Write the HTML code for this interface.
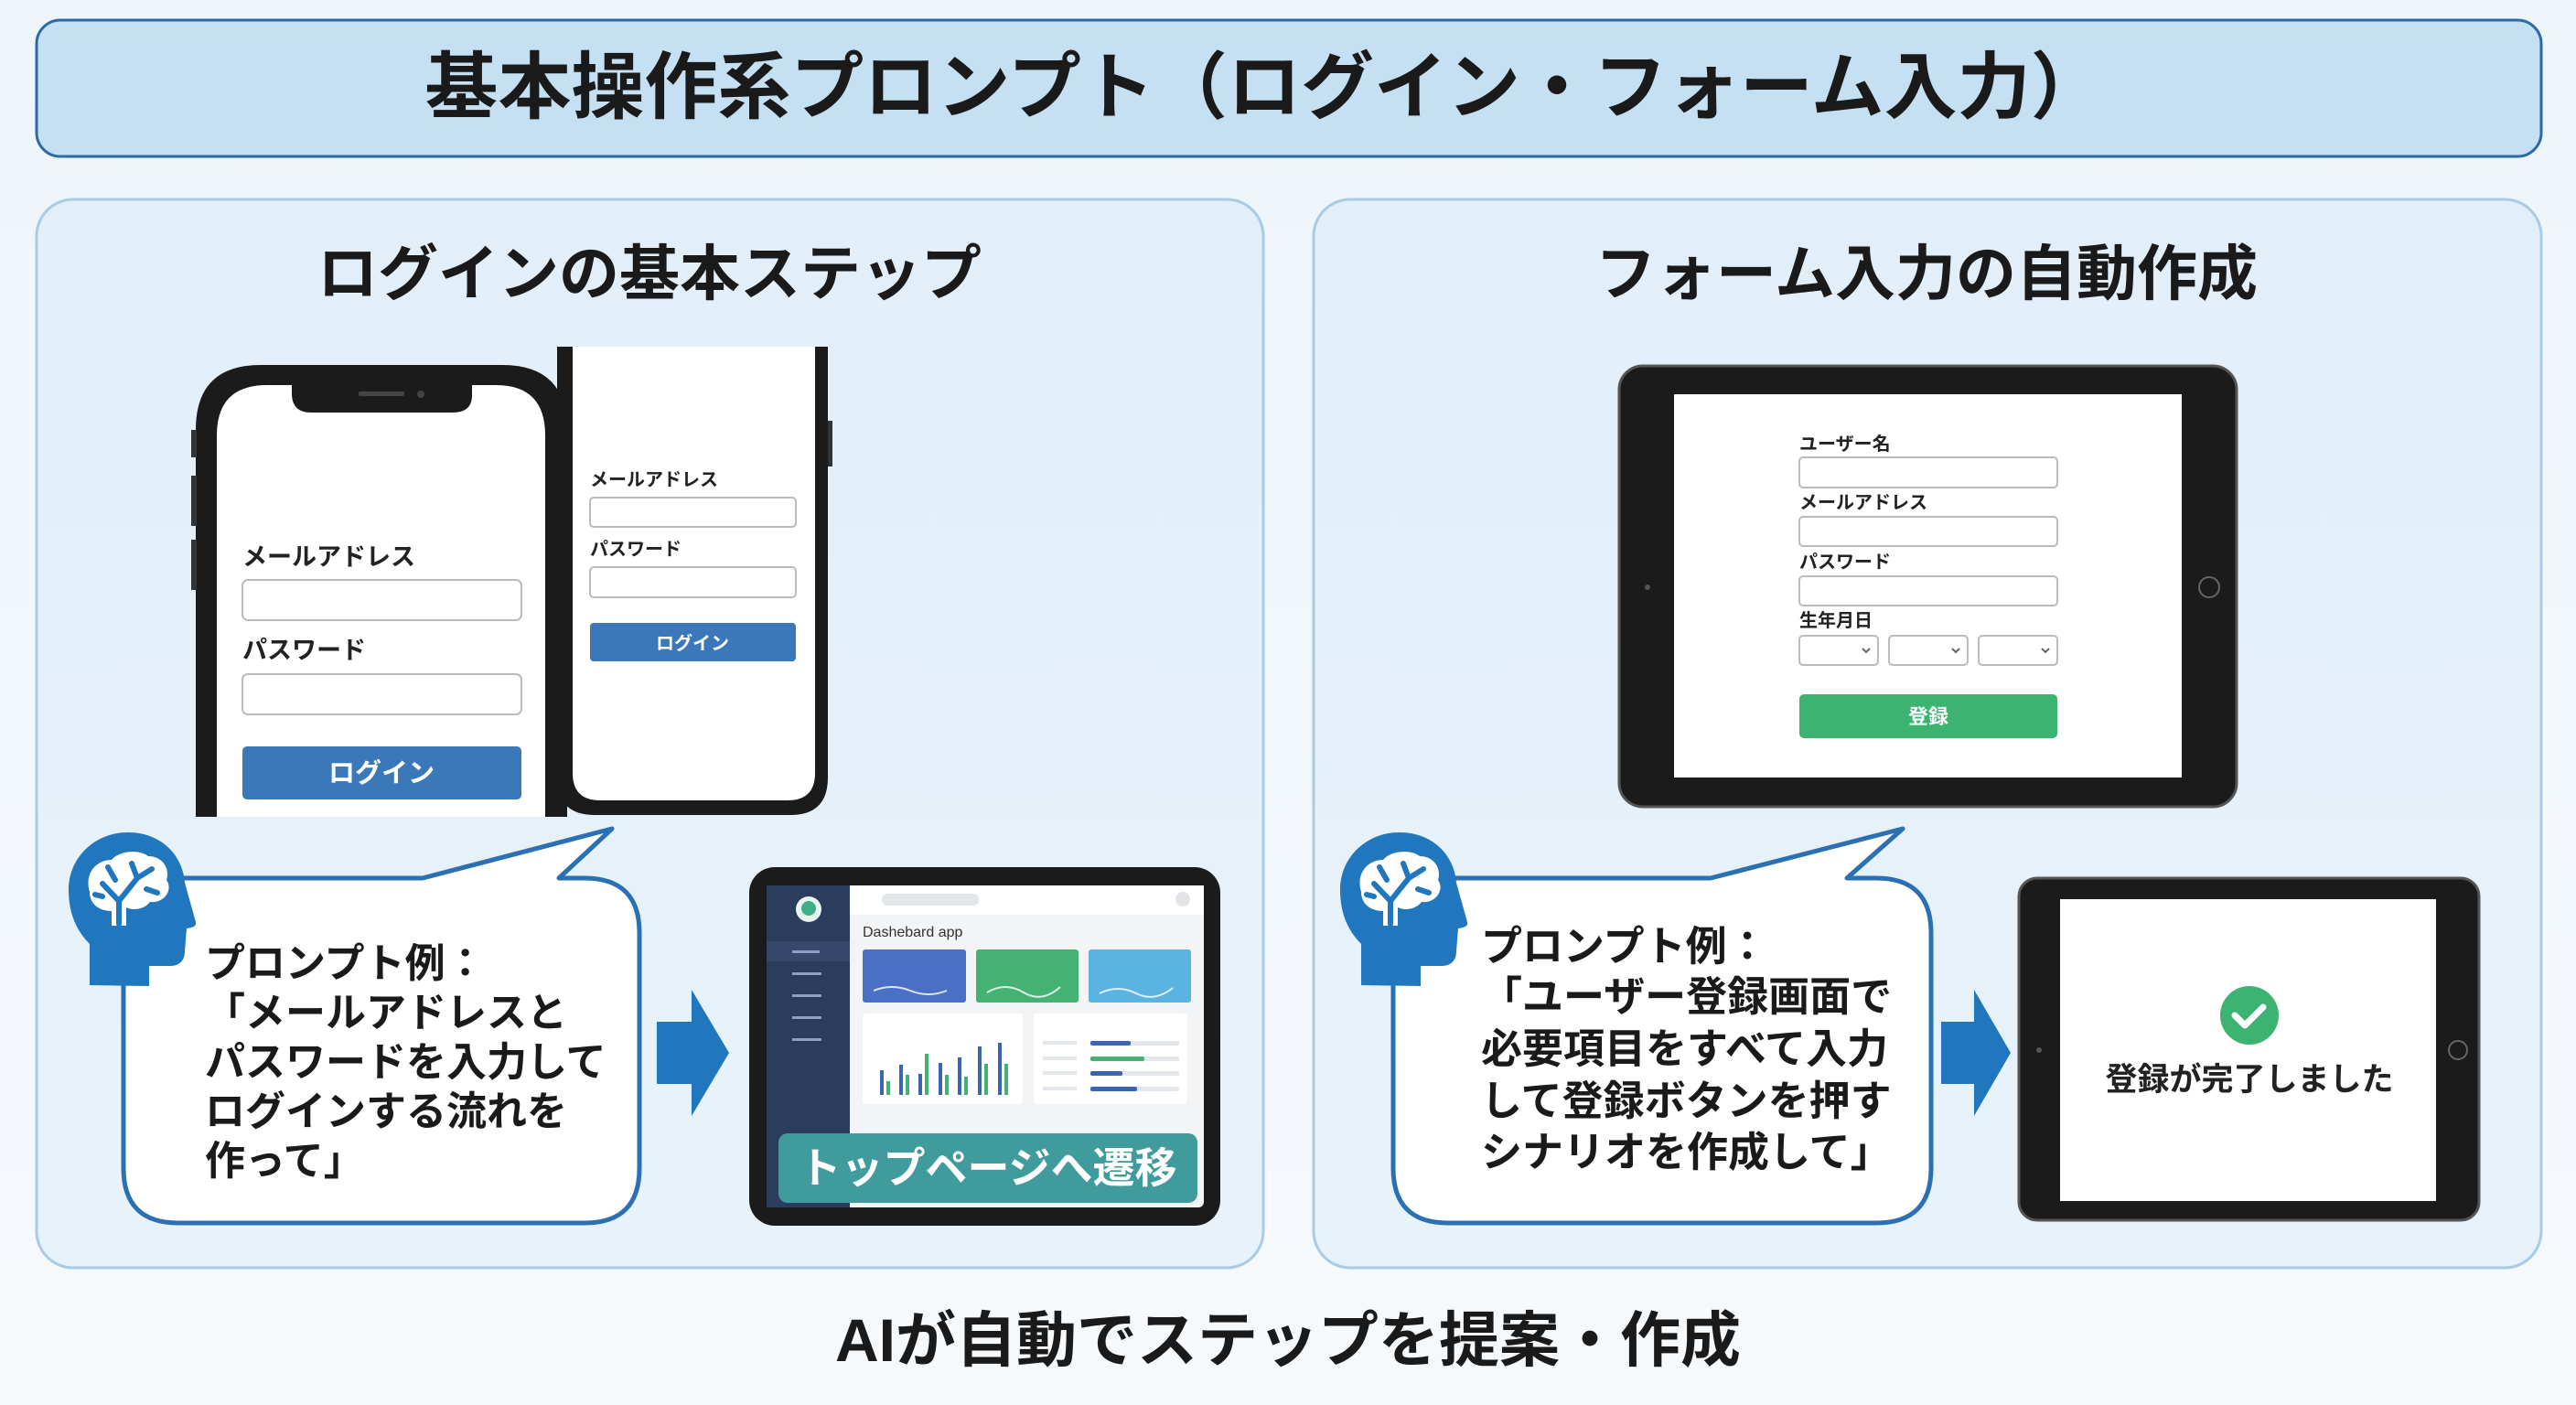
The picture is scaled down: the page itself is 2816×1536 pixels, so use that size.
<!DOCTYPE html>
<html><head><meta charset="utf-8"><style>
html,body{margin:0;padding:0;width:2816px;height:1536px;overflow:hidden;background:#f1f7fc}
svg{display:block}
text{font-family:"Liberation Sans","Noto Sans CJK JP",sans-serif;font-weight:bold}
</style></head><body>
<svg width="2816" height="1536" viewBox="0 0 2816 1536" xmlns="http://www.w3.org/2000/svg">
<defs>
<linearGradient id="bg" x1="0" y1="0" x2="0" y2="1"><stop offset="0" stop-color="#eef5fb"/><stop offset="1" stop-color="#f6f9fc"/></linearGradient>
<linearGradient id="pn" x1="0" y1="0" x2="0" y2="1"><stop offset="0" stop-color="#e2eff9"/><stop offset="1" stop-color="#e8f2fa"/></linearGradient>
<g id="brain">
<path d="M98,1077 L98,1032 C82,1016 75,996 75,973 C75,937 104,910 140,910 C176,910 200,935 202,965 L214,1008 C215,1012 212,1014 204,1015 L202,1040 C202,1050 196,1056 186,1056 L163,1056 L163,1078 Z" fill="#2177bd"/>
<path d="M98,975 C92,955 105,940 122,940 C130,930 152,928 162,936 C178,936 186,950 182,962 C190,974 178,988 164,986 C158,994 146,996 138,992 L138,1012 L122,1012 L122,996 C108,996 98,988 98,975 Z" fill="#fff"/>
<path d="M130,1010 L130,985 M130,985 L112,966 M130,985 L150,960 M150,960 L166,950 M150,960 L144,944 M118,948 L126,962 M160,972 L172,976 M112,980 L104,978" stroke="#2177bd" stroke-width="6" fill="none" stroke-linecap="round"/>
</g>
</defs>
<rect width="2816" height="1536" fill="url(#bg)"/>
<!-- title -->
<rect x="40" y="22" width="2738" height="149" rx="26" fill="#c6e0f3" stroke="#2b6aa6" stroke-width="3"/>
<text x="1382" y="123" font-size="80" text-anchor="middle" fill="#1a1a1a">基本操作系プロンプト（ログイン・フォーム入力）</text>
<!-- panels -->
<rect x="40" y="218" width="1341" height="1168" rx="40" fill="url(#pn)" stroke="#a8cbe6" stroke-width="3"/>
<rect x="1436" y="218" width="1342" height="1168" rx="40" fill="url(#pn)" stroke="#a8cbe6" stroke-width="3"/>
<text x="710" y="322" font-size="66" text-anchor="middle" fill="#1a1a1a">ログインの基本ステップ</text>
<text x="2106" y="322" font-size="66" text-anchor="middle" fill="#1a1a1a">フォーム入力の自動作成</text>

<!-- phone 2 (back) -->
<path d="M609,379 L905,379 L905,850 Q905,891 864,891 L650,891 Q609,891 609,850 Z" fill="#1b1b1b"/>
<path d="M626,379 L891,379 L891,845 Q891,875 861,875 L656,875 Q626,875 626,845 Z" fill="#fff"/>
<rect x="905" y="460" width="5" height="50" fill="#333"/>
<text x="645" y="531" font-size="20" fill="#222">メールアドレス</text>
<rect x="645" y="544" width="225" height="32" rx="4" fill="#fff" stroke="#bbb" stroke-width="2"/>
<text x="645" y="607" font-size="20" fill="#222">パスワード</text>
<rect x="645" y="620" width="225" height="33" rx="4" fill="#fff" stroke="#bbb" stroke-width="2"/>
<rect x="645" y="681" width="225" height="42" rx="4" fill="#3a78b9"/>
<text x="757" y="710" font-size="20" text-anchor="middle" fill="#fff">ログイン</text>

<!-- phone 1 -->
<path d="M214,893 L214,470 Q214,399 285,399 L549,399 Q620,399 620,470 L620,893 Z" fill="#1b1b1b"/>
<path d="M237,893 L237,476 Q237,421 292,421 L319,421 L319,432 Q320,451 340,451 L495,451 Q516,451 516,432 L516,421 L542,421 Q596,421 596,476 L596,893 Z" fill="#fff"/>
<rect x="392" y="428" width="50" height="5" rx="2" fill="#444"/><circle cx="460" cy="431" r="4" fill="#444"/>
<rect x="209" y="470" width="6" height="30" fill="#333"/><rect x="209" y="520" width="6" height="55" fill="#333"/><rect x="209" y="590" width="6" height="55" fill="#333"/>
<text x="265" y="618" font-size="27" fill="#222">メールアドレス</text>
<rect x="265" y="634" width="305" height="44" rx="6" fill="#fff" stroke="#bbb" stroke-width="2"/>
<text x="265" y="720" font-size="27" fill="#222">パスワード</text>
<rect x="265" y="737" width="305" height="44" rx="6" fill="#fff" stroke="#bbb" stroke-width="2"/>
<rect x="265" y="816" width="305" height="58" rx="5" fill="#3a78b9"/>
<text x="417" y="855" font-size="29" text-anchor="middle" fill="#fff">ログイン</text>

<!-- left bubble -->
<path d="M195,960 L462,960 L669,906 L611,960 L639,960 Q699,960 699,1020 L699,1277 Q699,1337 639,1337 L195,1337 Q135,1337 135,1277 L135,1020 Q135,960 195,960 Z" fill="#fff" stroke="#2a70b2" stroke-width="5" stroke-linejoin="round"/>
<use href="#brain"/>
<g font-size="44" fill="#1a1a1a">
<text x="224" y="1068">プロンプト例：</text>
<text x="224" y="1122">「メールアドレスと</text>
<text x="224" y="1176">パスワードを入力して</text>
<text x="224" y="1230">ログインする流れを</text>
<text x="224" y="1284">作って」</text>
</g>
<!-- arrow left -->
<rect x="718" y="1117" width="42" height="68" fill="#2177bd"/>
<polygon points="756,1082 797,1151 756,1220" fill="#2177bd"/>

<!-- dashboard tablet -->
<rect x="819" y="948" width="515" height="392" rx="28" fill="#1b1b1b"/>
<rect x="838" y="968" width="478" height="352" rx="6" fill="#f2f4f6"/>
<rect x="838" y="968" width="91" height="352" fill="#2b3d5c"/>
<circle cx="884" cy="994" r="14" fill="#e8f4ef"/><circle cx="884" cy="993" r="8" fill="#3fae8a"/>
<rect x="838" y="1029" width="91" height="22" fill="#36496a"/>
<g fill="#8da0bf"><rect x="866" y="1039" width="30" height="3"/><rect x="866" y="1063" width="32" height="3"/><rect x="866" y="1087" width="32" height="3"/><rect x="866" y="1111" width="32" height="3"/><rect x="866" y="1135" width="32" height="3"/></g>
<rect x="929" y="968" width="387" height="32" fill="#fff"/>
<rect x="964" y="977" width="106" height="13" rx="6" fill="#e4e7ea"/>
<circle cx="1293" cy="983" r="8" fill="#e2e4e7"/>
<text x="943" y="1024" font-size="16" fill="#333" style="font-weight:normal">Dashebard app</text>
<rect x="943" y="1038" width="113" height="58" rx="3" fill="#4a70c6"/>
<rect x="1067" y="1038" width="112" height="58" rx="3" fill="#45b273"/>
<rect x="1190" y="1038" width="112" height="58" rx="3" fill="#5bb3e2"/>
<g stroke="#fff" stroke-width="2" fill="none" opacity=".8"><path d="M955,1083 q20,-8 40,0 t40,0"/><path d="M1079,1085 q20,-12 40,0 t40,-6"/><path d="M1202,1086 q20,-10 40,0 t40,-6"/></g>
<rect x="943" y="1108" width="175" height="99" rx="4" fill="#fff"/>
<rect x="1130" y="1108" width="168" height="99" rx="4" fill="#fff"/>
<g fill="#3a66b0"><rect x="962" y="1170" width="4" height="27"/><rect x="983" y="1164" width="4" height="33"/><rect x="1004" y="1174" width="4" height="23"/><rect x="1026" y="1162" width="4" height="35"/><rect x="1047" y="1156" width="4" height="41"/><rect x="1069" y="1144" width="4" height="53"/><rect x="1091" y="1140" width="4" height="57"/></g>
<g fill="#45b273"><rect x="969" y="1182" width="4" height="15"/><rect x="990" y="1175" width="4" height="22"/><rect x="1011" y="1152" width="4" height="45"/><rect x="1033" y="1175" width="4" height="22"/><rect x="1054" y="1177" width="4" height="20"/><rect x="1076" y="1163" width="4" height="34"/><rect x="1098" y="1163" width="4" height="34"/></g>
<g fill="#e3e6ea"><rect x="1192" y="1138" width="97" height="5" rx="2"/><rect x="1192" y="1155" width="97" height="5" rx="2"/><rect x="1192" y="1171" width="97" height="5" rx="2"/><rect x="1192" y="1188" width="97" height="5" rx="2"/><rect x="1140" y="1138" width="37" height="4"/><rect x="1140" y="1155" width="37" height="4"/><rect x="1140" y="1171" width="37" height="4"/><rect x="1140" y="1188" width="37" height="4"/></g>
<rect x="1192" y="1138" width="44" height="5" rx="2" fill="#3a66b0"/><rect x="1192" y="1155" width="59" height="5" rx="2" fill="#45b273"/><rect x="1192" y="1171" width="35" height="5" rx="2" fill="#3a66b0"/><rect x="1192" y="1188" width="51" height="5" rx="2" fill="#3a66b0"/>
<rect x="851" y="1239" width="458" height="76" rx="10" fill="#3f9b9c"/>
<text x="1080" y="1293" font-size="46" text-anchor="middle" fill="#fff">トップページへ遷移</text>

<!-- form tablet -->
<rect x="1770" y="400" width="675" height="482" rx="26" fill="#1b1b1b" stroke="#555" stroke-width="3"/>
<rect x="1830" y="431" width="555" height="419" fill="#fff"/>
<circle cx="2415" cy="642" r="11" fill="none" stroke="#666" stroke-width="2"/>
<circle cx="1801" cy="642" r="3" fill="#555"/>
<g font-size="20" fill="#222">
<text x="1967" y="492">ユーザー名</text>
<text x="1967" y="556">メールアドレス</text>
<text x="1967" y="621">パスワード</text>
<text x="1967" y="685">生年月日</text>
</g>
<g fill="#fff" stroke="#bbb" stroke-width="2">
<rect x="1967" y="500" width="282" height="33" rx="4"/>
<rect x="1967" y="565" width="282" height="32" rx="4"/>
<rect x="1967" y="630" width="282" height="32" rx="4"/>
<rect x="1967" y="695" width="86" height="32" rx="4"/>
<rect x="2065" y="695" width="86" height="32" rx="4"/>
<rect x="2163" y="695" width="86" height="32" rx="4"/>
</g>
<g stroke="#666" stroke-width="2" fill="none"><path d="M2036,709 l4,4 l4,-4"/><path d="M2134,709 l4,4 l4,-4"/><path d="M2232,709 l4,4 l4,-4"/></g>
<rect x="1967" y="759" width="282" height="48" rx="5" fill="#3cb371"/>
<text x="2108" y="791" font-size="22" text-anchor="middle" fill="#fff">登録</text>

<!-- right bubble -->
<path d="M1583,960 L1870,960 L2080,906 L2019,960 L2051,960 Q2111,960 2111,1020 L2111,1277 Q2111,1337 2051,1337 L1583,1337 Q1523,1337 1523,1277 L1523,1020 Q1523,960 1583,960 Z" fill="#fff" stroke="#2a70b2" stroke-width="5" stroke-linejoin="round"/>
<use href="#brain" transform="translate(1390,0)"/>
<g font-size="45" fill="#1a1a1a">
<text x="1619" y="1050">プロンプト例：</text>
<text x="1619" y="1105">「ユーザー登録画面で</text>
<text x="1619" y="1162">必要項目をすべて入力</text>
<text x="1619" y="1219">して登録ボタンを押す</text>
<text x="1619" y="1275">シナリオを作成して」</text>
</g>
<rect x="2122" y="1117" width="40" height="68" fill="#2177bd"/>
<polygon points="2158,1082 2198,1151 2158,1220" fill="#2177bd"/>

<!-- done tablet -->
<rect x="2207" y="960" width="503" height="374" rx="20" fill="#1b1b1b" stroke="#555" stroke-width="3"/>
<rect x="2252" y="983" width="411" height="330" fill="#fff"/>
<circle cx="2687" cy="1148" r="10" fill="none" stroke="#666" stroke-width="2"/>
<circle cx="2229" cy="1148" r="3" fill="#555"/>
<circle cx="2459" cy="1110" r="32" fill="#3cb371"/>
<path d="M2443,1110 l11,11 l20,-20" stroke="#fff" stroke-width="7" fill="none" stroke-linecap="round" stroke-linejoin="round"/>
<text x="2459" y="1192" font-size="35" text-anchor="middle" fill="#222">登録が完了しました</text>

<text x="1408" y="1488" font-size="66" text-anchor="middle" fill="#1a1a1a">AIが自動でステップを提案・作成</text>
</svg>
</body></html>
